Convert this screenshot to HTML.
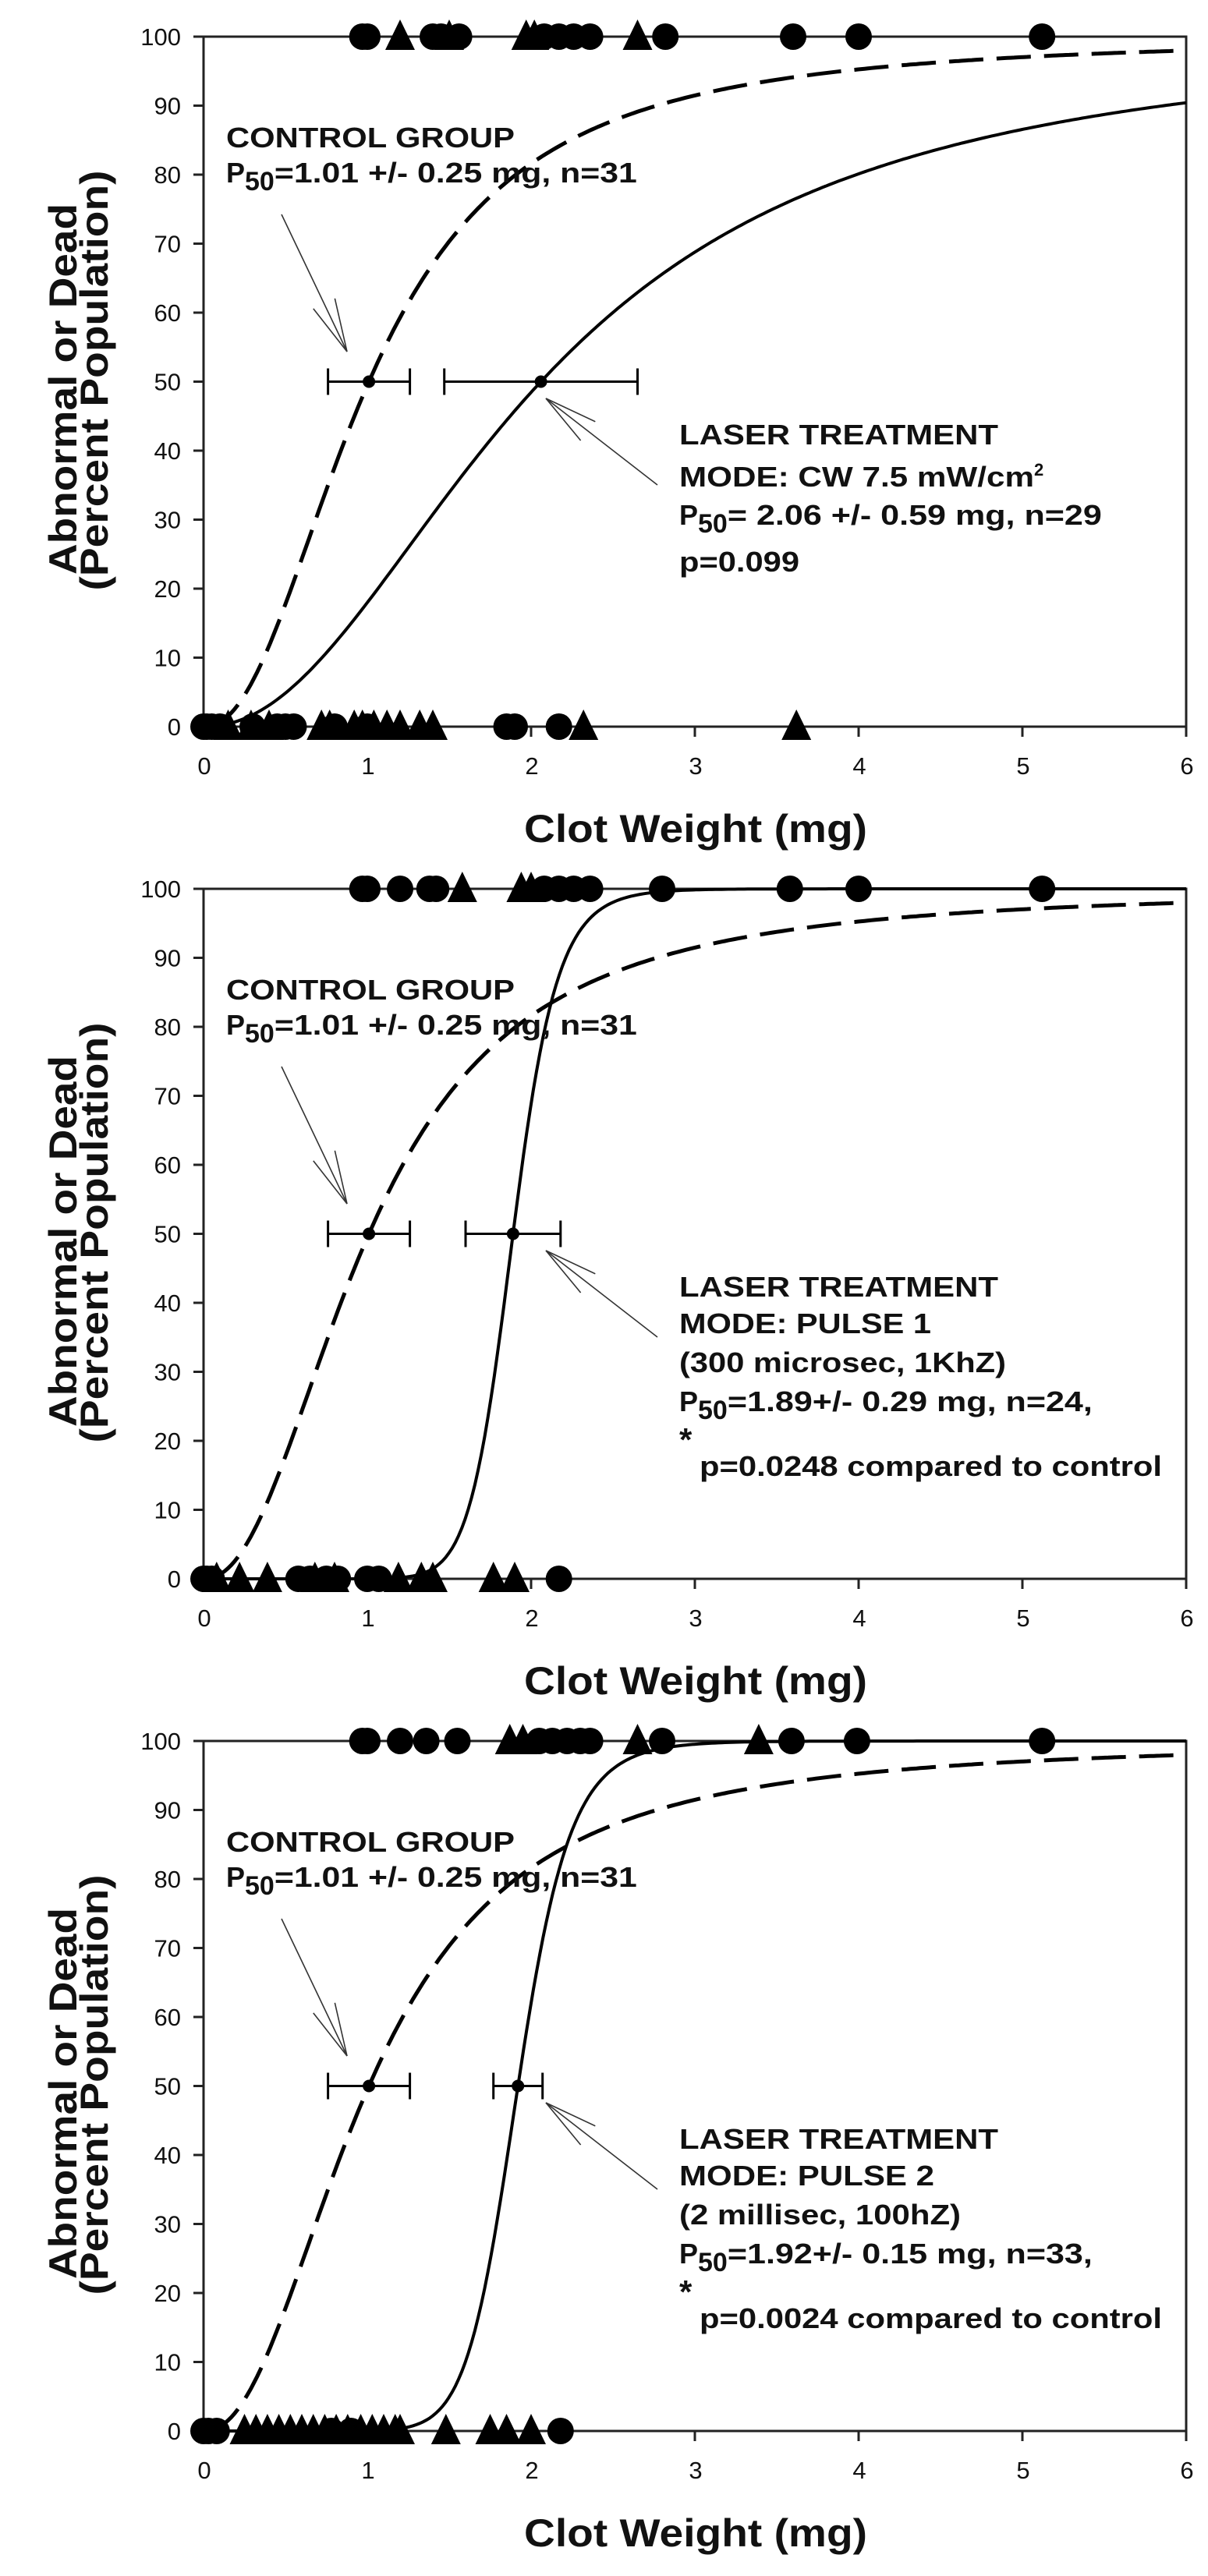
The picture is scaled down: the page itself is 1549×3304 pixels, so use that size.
<!DOCTYPE html>
<html><head><meta charset="utf-8"><style>
html,body{margin:0;padding:0;background:#fff;}
svg{display:block;}
text{font-family:"Liberation Sans",sans-serif;fill:#111;}
.tick{font-family:"Liberation Sans Narrow","Liberation Sans",sans-serif;font-size:31px;}
.ann{font-weight:bold;font-size:36px;}
.ttl{font-weight:bold;font-size:50px;}
</style></head><body>
<svg id="fig" width="1549" height="3304" viewBox="0 0 1549 3304" xmlns="http://www.w3.org/2000/svg"></svg>
<script>
// ---- data ----
const xTicks = [0,1,2,3,4,5,6];
const yTicks = [0,10,20,30,40,50,60,70,80,90,100];
const controlP50 = 1.01, controlErr = 0.25, controlSlope = 2.18;
const laserP50 = [2.06, 1.89, 1.92];
const laserErr = [0.59, 0.29, 0.15];
const laserSlope = [2.1, 14, 12];
const topCircles1 = [0.97,1.0,1.4,1.45,1.56,2.08,2.17,2.26,2.36,2.82,3.6,4.0,5.12];
const topTriangles1 = [1.2,1.5,1.97,2.02,2.65];
const botCircles1 = [0,0.02,0.05,0.1,0.3,0.45,0.5,0.55,0.8,1.0,1.85,1.9,2.17];
const botTriangles1 = [0.15,0.29,0.4,0.72,0.77,0.92,0.97,1.04,1.12,1.2,1.32,1.4,2.32,3.62];
const topCircles2 = [0.97,1.0,1.2,1.38,1.42,2.08,2.17,2.26,2.36,2.8,3.58,4.0,5.12];
const topTriangles2 = [1.58,1.94,2.0];
const botCircles2 = [0,0.02,0.05,0.58,0.65,0.75,0.82,1.0,1.07,2.17];
const botTriangles2 = [0.08,0.22,0.39,0.68,0.8,1.19,1.33,1.4,1.77,1.9];
const topCircles3 = [0.97,1.0,1.2,1.36,1.55,2.05,2.13,2.22,2.3,2.36,2.8,3.59,3.99,5.12];
const topTriangles3 = [1.87,1.95,2.65,3.39];
const botCircles3 = [0,0.03,0.08,0.78,0.9,2.18];
const botTriangles3 = [0.25,0.32,0.39,0.46,0.53,0.6,0.67,0.74,0.81,0.88,0.96,1.03,1.1,1.17,1.2,1.48,1.75,1.85,2.0];

const NS = "http://www.w3.org/2000/svg";
const svg = document.getElementById('fig');
function mk(parent, tag, attrs, txt){
  const e = document.createElementNS(NS, tag);
  for (const k in attrs) e.setAttribute(k, attrs[k]);
  if (txt !== undefined) e.textContent = txt;
  parent.appendChild(e); return e;
}
const X0 = 261, X1 = 1521;
function xs(v){ return X0 + v*(X1-X0)/6; }
function loglogistic(x, p50, h){ return x<=0 ? 0 : 100/(1+Math.pow(x/p50, -h)); }

const texts = [
  [["LASER TREATMENT",409],["MODE: CW 7.5 mW/cm",455,"2"],["P","50","= 2.06 +/- 0.59 mg, n=29",480],["p=0.099",154]],
  [["LASER TREATMENT",409],["MODE: PULSE 1",323],["(300 microsec, 1KhZ)",419],["P","50","=1.89+/- 0.29 mg, n=24,",468],["*","p=0.0248 compared to control",593]],
  [["LASER TREATMENT",409],["MODE: PULSE 2",327],["(2 millisec, 100hZ)",361],["P","50","=1.92+/- 0.15 mg, n=33,",468],["*","p=0.0024 compared to control",593]]
];
const topC=[topCircles1,topCircles2,topCircles3], topT=[topTriangles1,topTriangles2,topTriangles3];
const botC=[botCircles1,botCircles2,botCircles3], botT=[botTriangles1,botTriangles2,botTriangles3];

for (let p=0;p<3;p++){
  const off = p*1093;
  const YT = 47+off, YB = 932+off;
  const ys = v => YB - v*(YB-YT)/100;
  const g = mk(svg,'g',{});
  
  
  const fr = mk(g,'rect',{x:X0,y:YT,width:X1-X0,height:YB-YT,fill:'none',stroke:'#222','stroke-width':3});
  
  
  yTicks.forEach(t=>{
    const l = mk(g,'line',{x1:X0-13,x2:X0,y1:ys(t),y2:ys(t),stroke:'#222','stroke-width':3});
    
    
    const tx = mk(g,'text',{x:232,y:ys(t)+11,'text-anchor':'end',class:'tick'},String(t));
    
    
  });
  xTicks.forEach(t=>{
    const l = mk(g,'line',{x1:xs(t),x2:xs(t),y1:YB,y2:YB+13,stroke:'#222','stroke-width':3});
    
    
    const tx = mk(g,'text',{x:xs(t)+1,y:YB+61,'text-anchor':'middle',class:'tick'},String(t));
    
    
  });
  const yt1 = mk(g,'text',{transform:`translate(98,${499+off}) rotate(-90)`,'text-anchor':'middle',class:'ttl',textLength:476,lengthAdjust:'spacingAndGlyphs'},'Abnormal or Dead');
  
  
  const yt2 = mk(g,'text',{transform:`translate(138,${488+off}) rotate(-90)`,'text-anchor':'middle',class:'ttl',textLength:539,lengthAdjust:'spacingAndGlyphs'},'(Percent Population)');
  
  
  const xt = mk(g,'text',{x:892,y:1080+off,'text-anchor':'middle',class:'ttl',textLength:440,lengthAdjust:'spacingAndGlyphs'},'Clot Weight (mg)');
  
  

  let d1='', d2='';
  for (let i=0;i<=300;i++){
    const x = 0.05 + i*(5.95/300);
    d1 += (i?'L':'M')+xs(x).toFixed(1)+','+ys(loglogistic(x,controlP50,controlSlope)).toFixed(1);
    d2 += (i?'L':'M')+xs(x).toFixed(1)+','+ys(loglogistic(x,laserP50[p],laserSlope[p])).toFixed(1);
  }
  const cc = mk(g,'path',{d:d1,fill:'none',stroke:'#000','stroke-width':5,'stroke-dasharray':'44 17'});
  
  
  const lc = mk(g,'path',{d:d2,fill:'none',stroke:'#000','stroke-width':4});
  
  

  function circ(v,yv){ const c=mk(g,'circle',{cx:xs(v),cy:ys(yv),r:17,fill:'#000'});
    
     }
  function tri(v,yv){ const cx=xs(v), cy=ys(yv);
    const t=mk(g,'polygon',{points:`${cx-19},${cy+17} ${cx+19},${cy+17} ${cx},${cy-22}`,fill:'#000'});
    
     }
  topC[p].forEach(v=>circ(v,100)); topT[p].forEach(v=>tri(v,100));
  botC[p].forEach(v=>circ(v,0)); botT[p].forEach(v=>tri(v,0));

  [[controlP50,controlErr,'control-p50-errorbar'],[laserP50[p],laserErr[p],'laser-p50-errorbar']].forEach(([c,e,nm])=>{
    const eg = mk(g,'g',{stroke:'#000','stroke-width':3});
    
    
    const y=ys(50);
    mk(eg,'line',{x1:xs(c-e),x2:xs(c+e),y1:y,y2:y});
    mk(eg,'line',{x1:xs(c-e),x2:xs(c-e),y1:y-17,y2:y+17});
    mk(eg,'line',{x1:xs(c+e),x2:xs(c+e),y1:y-17,y2:y+17});
    mk(g,'circle',{cx:xs(c),cy:y,r:8,fill:'#000'});
  });

  function arrow(nm,x1,y1,x2,y2){
    const ag = mk(g,'g',{stroke:'#333','stroke-width':1.6,fill:'none'});
    
    
    mk(ag,'line',{x1,y1,x2,y2});
    const a=Math.atan2(y1-y2,x1-x2);
    [0.22,-0.22].forEach(da=>{
      mk(ag,'line',{x1:x2,y1:y2,x2:x2+70*Math.cos(a+da),y2:y2+70*Math.sin(a+da)});
    });
  }
  arrow('control-arrow',361,275+off,445,451+off);
  arrow('laser-arrow',843,622+off,700,511+off);

  const ca = mk(g,'text',{x:290,y:189+off,class:'ann',textLength:370,lengthAdjust:'spacingAndGlyphs'},'CONTROL GROUP');
  
  
  const cb = mk(g,'text',{x:290,y:234+off,class:'ann'});
  
  
  mk(cb,'tspan',{},'P');
  mk(cb,'tspan',{dy:10,'font-size':34},'50');
  mk(cb,'tspan',{dy:-10,textLength:465,lengthAdjust:'spacingAndGlyphs'},'=1.01 +/- 0.25 mg, n=31');

  const lines = texts[p];
  const bl = p===0 ? [570,624,673,733] : [570,617,667,717,800];
  lines.forEach((ln,i)=>{
    const y = bl[i]+off;
    const t = mk(g,'text',{x:871,y:y,class:'ann'});
    
    
    if (ln[0]==='P'){
      mk(t,'tspan',{},'P'); mk(t,'tspan',{dy:10,'font-size':34},ln[1]);
      mk(t,'tspan',{dy:-10,textLength:ln[3],lengthAdjust:'spacingAndGlyphs'},ln[2]);
    } else if (ln[0]==='*'){
      mk(t,'tspan',{dy:-32,'font-size':42},'*');
      mk(t,'tspan',{x:897,dy:32,textLength:ln[2],lengthAdjust:'spacingAndGlyphs'},ln[1]);
    } else {
      mk(t,'tspan',{textLength:ln[1],lengthAdjust:'spacingAndGlyphs'},ln[0]);
      if (ln[2]) mk(t,'tspan',{dy:-14,'font-size':22},ln[2]);
    }
  });
}
</script>
</body></html>
